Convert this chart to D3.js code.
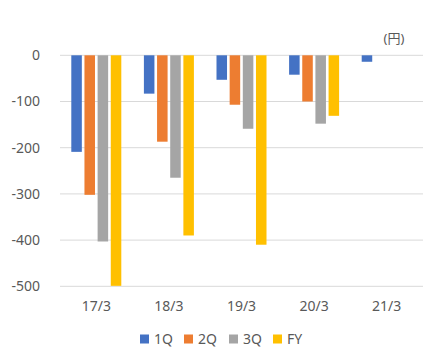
<!DOCTYPE html>
<html><head><meta charset="utf-8">
<script src="https://cdn.jsdelivr.net/npm/d3@7"></script>
<style>body{margin:0;background:#fff;} text{font-family:"Noto Sans","Noto Sans CJK JP",sans-serif;fill:#595959;}</style>
</head><body>
<svg id="c" width="436" height="360"></svg>
<script>
const categories = ["17/3","18/3","19/3","20/3","21/3"];
const seriesNames = ["1Q","2Q","3Q","FY"];
const q1 = [-209,-83,-53,-42,-14];
const q2 = [-302,-187,-107,-100,null];
const q3 = [-403,-265,-159,-148,null];
const fy = [-499,-390,-410,-131,null];
const yTicks = [0,-100,-200,-300,-400,-500];
const colors = ["#4472C4","#ED7D31","#A5A5A5","#FFC000"];
const series = [q1,q2,q3,fy];

(function(){
const svg = d3.select("#c");
const pl = 60, pr = 423, pt = 55.3, pb = 286.3;
const x = d3.scaleBand().domain(categories).range([pl,pr]).paddingInner(0).paddingOuter(0);
const y = d3.scaleLinear().domain([0,-500]).range([pt,pb]);
const groupW = 50;
const sx = d3.scaleBand().domain(seriesNames).range([0,groupW]).paddingInner(0.2).paddingOuter(0);

svg.append("g").selectAll("line").data(yTicks).join("line")
  .attr("x1",pl).attr("x2",pr).attr("y1",d=>y(d)).attr("y2",d=>y(d))
  .attr("stroke","#D9D9D9").attr("stroke-width",1);

svg.append("g").selectAll("text").data(yTicks).join("text")
  .attr("x",40).attr("y",d=>y(d)).attr("dy","0.35em").attr("text-anchor","end")
  .attr("font-size",14).text(d=>String(d));

series.forEach((vals,si)=>{
  svg.append("g").selectAll("rect").data(vals.map((v,i)=>({v,c:categories[i]})).filter(d=>d.v!=null)).join("rect")
    .attr("x",d=>x(d.c)+(x.bandwidth()-groupW)/2+sx(seriesNames[si]))
    .attr("width",sx.bandwidth())
    .attr("y",y(0))
    .attr("height",d=>y(d.v)-y(0))
    .attr("fill",colors[si]);
});

svg.append("g").selectAll("text").data(categories).join("text")
  .attr("x",d=>x(d)+x.bandwidth()/2).attr("y",306).attr("dy","0.35em")
  .attr("text-anchor","middle").attr("font-size",14).text(d=>d);

svg.append("text").attr("x",394).attr("y",38).attr("dy","0.35em").attr("text-anchor","middle")
  .attr("font-size",13).text("(円)");

const legendX = [140,184,229,273];
const lg = svg.append("g").selectAll("g").data(seriesNames).join("g")
  .attr("transform",(d,i)=>`translate(${legendX[i]},339)`);
lg.append("rect").attr("x",0).attr("y",-4.5).attr("width",9).attr("height",9).attr("fill",(d,i)=>colors[i]);
lg.append("text").attr("x",14).attr("y",0).attr("dy","0.35em").attr("font-size",14).text(d=>d);
})();
</script>
</body></html>
